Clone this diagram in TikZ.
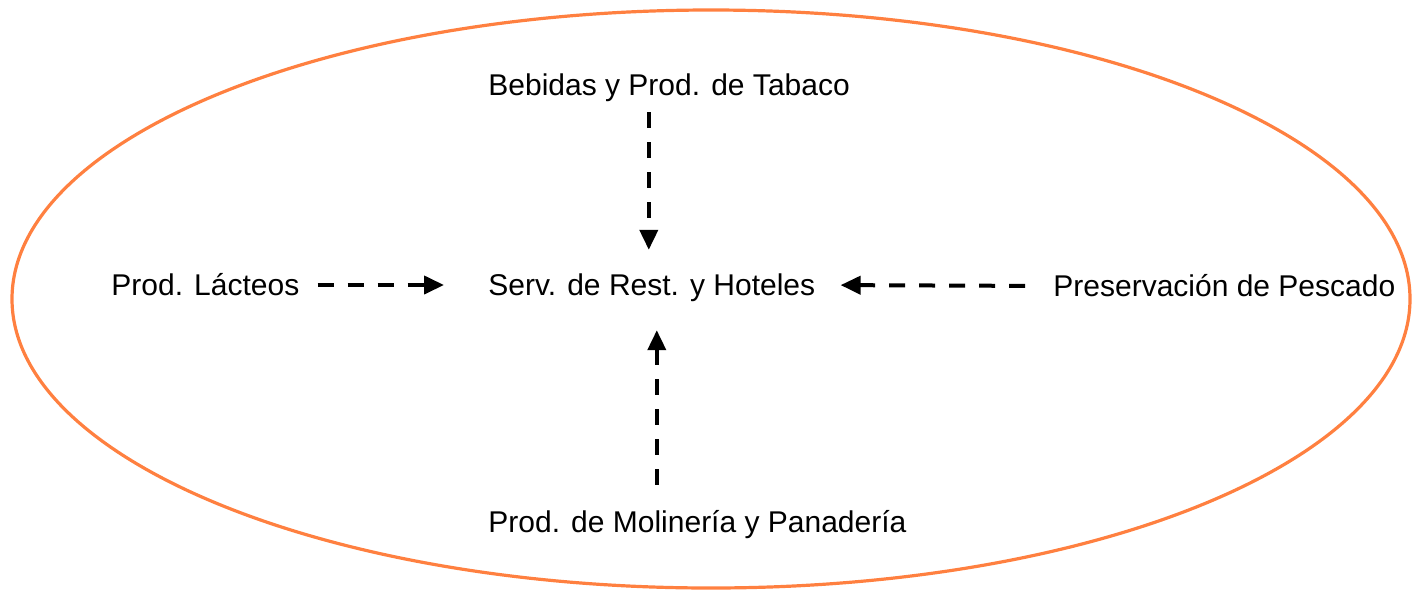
\documentclass[tikz,border=0pt]{standalone}
\usepackage{fontspec}
\setmainfont{Liberation Sans}
\usepackage{tikz}
\usetikzlibrary{calc,arrows.meta}
\definecolor{ovalorange}{HTML}{FF8040}

\begin{document}
\begin{tikzpicture}[x=0.5pt,y=-0.5pt,
    lbl/.style={anchor=west,inner sep=0pt,text height=10.8pt,text depth=0pt,
      font=\fontsize{15}{18}\selectfont},
    flecha/.style={line width=2pt,dash pattern=on 8pt off 7pt,
      -{Triangle[length=10pt,width=9pt]}}]
              \useasboundingbox (0,0) rectangle (1412,590);
              \draw[ovalorange,line width=1.6pt] (711,299) ellipse [x radius=349.5pt, y radius=144.5pt];
              \node[lbl](tabaco)at(488,85){Bebidas y Prod. de Tabaco};
              \node[lbl](serv)at(488,285){Serv. de Rest. y Hoteles};
              \node[lbl](lacteos)at(111,285){Prod. Lácteos};
              \node[lbl](pescado)at(1053,286){Preservación de Pescado};
              \node[lbl](molineria)at(488,522){Prod. de Molinería y Panadería};
              \draw[flecha,shorten <=9pt,shorten >=22pt](lacteos.east)--(serv.west);
              \draw[flecha,shorten <=14pt,shorten >=12.5pt](pescado.west)--(serv.east);
              \draw[flecha,shorten <=8pt,shorten >=12pt]([xshift=-1.5pt]tabaco.south -| serv.north)--([xshift=-1.5pt]serv.north);
              \draw[flecha,shorten <=13pt,shorten >=17pt]([xshift=2.5pt]molineria.north -| serv.south)--([xshift=2.5pt]serv.south);
            \end{tikzpicture}
\end{document}
